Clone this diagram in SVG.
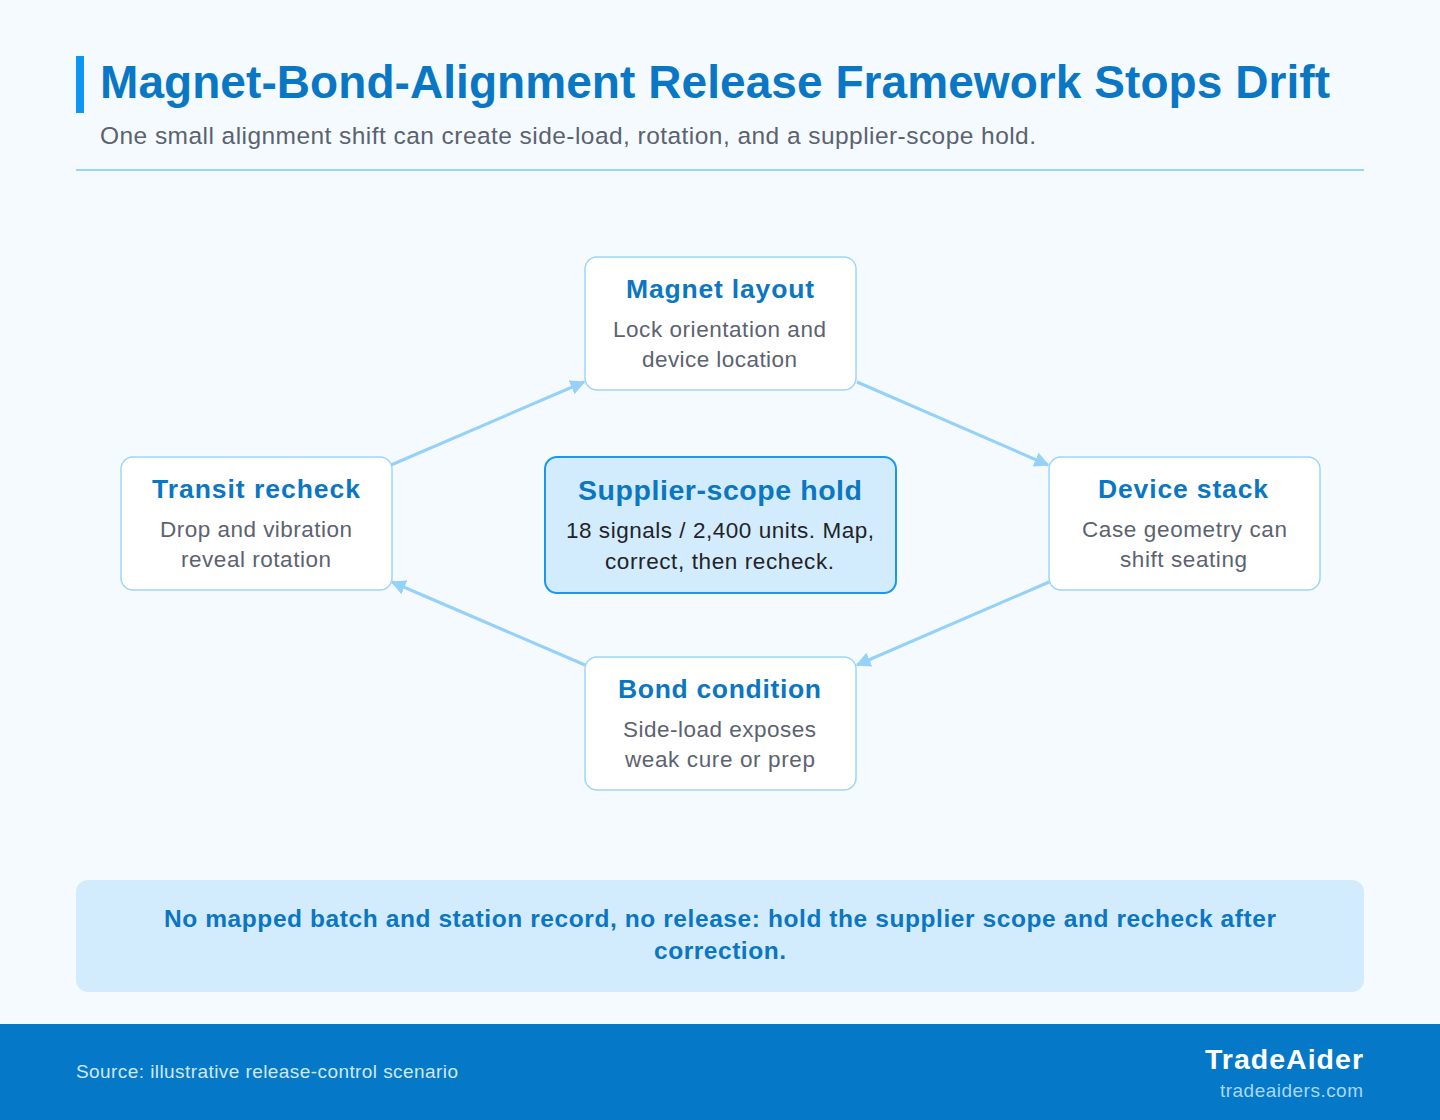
<svg xmlns="http://www.w3.org/2000/svg" width="1440" height="1120" viewBox="0 0 1440 1120">
<defs>
<style>
text{font-family:"Liberation Sans",Arial,sans-serif}
.node{fill:#ffffff;stroke:#9fd5f8;stroke-width:1.5}
.hub{fill:#d3ecfd;stroke:#1a98f0;stroke-width:2}
.nt{font-size:26.5px;font-weight:bold;fill:#0b76c2;text-anchor:middle}
.nb{font-size:22.5px;fill:#5c6370;text-anchor:middle}
.hb{font-size:22.5px;fill:#1f2328;text-anchor:middle}
.conn{stroke:#95d1f8;stroke-width:3;fill:none;marker-end:url(#arr)}
</style>
<marker id="arr" viewBox="0 0 10 10" refX="9" refY="5" markerWidth="5" markerHeight="5" orient="auto" markerUnits="strokeWidth">
<path d="M0,0 L10,5 L0,10 z" fill="#95d1f8"/>
</marker>
</defs>
<rect width="1440" height="1120" fill="#f5faff"/>
<rect x="76" y="56" width="8" height="57" fill="#0a97f5"/>
<text x="100" y="98" font-size="46" font-weight="bold" fill="#0a77c4" textLength="1230" lengthAdjust="spacing">Magnet-Bond-Alignment Release Framework Stops Drift</text>
<text x="100" y="144" font-size="24.5" fill="#5b6270" textLength="936" lengthAdjust="spacing">One small alignment shift can create side-load, rotation, and a supplier-scope hold.</text>
<line x1="76" y1="170" x2="1364" y2="170" stroke="#9ed4f7" stroke-width="2"/>
<g id="connectors">
<line class="conn" x1="391" y1="465" x2="584" y2="382"/>
<line class="conn" x1="857" y1="382" x2="1048" y2="465"/>
<line class="conn" x1="1049" y1="582" x2="857" y2="665"/>
<line class="conn" x1="585" y1="665" x2="392" y2="582"/>
</g>
<g id="magnet-layout">
<rect class="node" x="585" y="257" width="271" height="133" rx="12"/>
<text class="nt" x="720" y="298" textLength="188" lengthAdjust="spacing">Magnet layout</text>
<text class="nb" x="719.5" y="337" textLength="213" lengthAdjust="spacing">Lock orientation and</text>
<text class="nb" x="719.5" y="367" textLength="155" lengthAdjust="spacing">device location</text>
</g>
<g id="transit-recheck">
<rect class="node" x="121" y="457" width="271" height="133" rx="12"/>
<text class="nt" x="256" y="498" textLength="208" lengthAdjust="spacing">Transit recheck</text>
<text class="nb" x="256" y="537" textLength="192" lengthAdjust="spacing">Drop and vibration</text>
<text class="nb" x="256" y="567" textLength="150" lengthAdjust="spacing">reveal rotation</text>
</g>
<g id="device-stack">
<rect class="node" x="1049" y="457" width="271" height="133" rx="12"/>
<text class="nt" x="1183" y="498" textLength="170" lengthAdjust="spacing">Device stack</text>
<text class="nb" x="1184.5" y="537" textLength="205" lengthAdjust="spacing">Case geometry can</text>
<text class="nb" x="1183.5" y="567" textLength="127" lengthAdjust="spacing">shift seating</text>
</g>
<g id="bond-condition">
<rect class="node" x="585" y="657" width="271" height="133" rx="12"/>
<text class="nt" x="719.5" y="698" textLength="203" lengthAdjust="spacing">Bond condition</text>
<text class="nb" x="719.5" y="737" textLength="193" lengthAdjust="spacing">Side-load exposes</text>
<text class="nb" x="720" y="767" textLength="190" lengthAdjust="spacing">weak cure or prep</text>
</g>
<g id="supplier-scope-hold">
<rect class="hub" x="545" y="457" width="351" height="136" rx="12"/>
<text class="nt" x="720" y="500" style="font-size:28.5px" textLength="284" lengthAdjust="spacing">Supplier-scope hold</text>
<text class="hb" x="720" y="538" textLength="308" lengthAdjust="spacing">18 signals / 2,400 units. Map,</text>
<text class="hb" x="719.5" y="569" textLength="229" lengthAdjust="spacing">correct, then recheck.</text>
</g>
<g id="banner">
<rect x="76" y="880" width="1288" height="112" rx="12" fill="#d3ecfd"/>
<text x="720" y="927" font-size="24.5" font-weight="bold" fill="#0b76c2" text-anchor="middle" textLength="1112" lengthAdjust="spacing">No mapped batch and station record, no release: hold the supplier scope and recheck after</text>
<text x="720" y="959" font-size="24.5" font-weight="bold" fill="#0b76c2" text-anchor="middle" textLength="132" lengthAdjust="spacing">correction.</text>
</g>
<g id="footer">
<rect x="0" y="1024" width="1440" height="96" fill="#0578c8"/>
<text x="76" y="1078" font-size="19" fill="#cfe8fb" textLength="382" lengthAdjust="spacing">Source: illustrative release-control scenario</text>
<text x="1363" y="1069" font-size="28.5" font-weight="bold" fill="#ffffff" text-anchor="end" textLength="158" lengthAdjust="spacing">TradeAider</text>
<text x="1363" y="1097" font-size="19" fill="#a8d8f8" text-anchor="end" textLength="143" lengthAdjust="spacing">tradeaiders.com</text>
</g>
</svg>
